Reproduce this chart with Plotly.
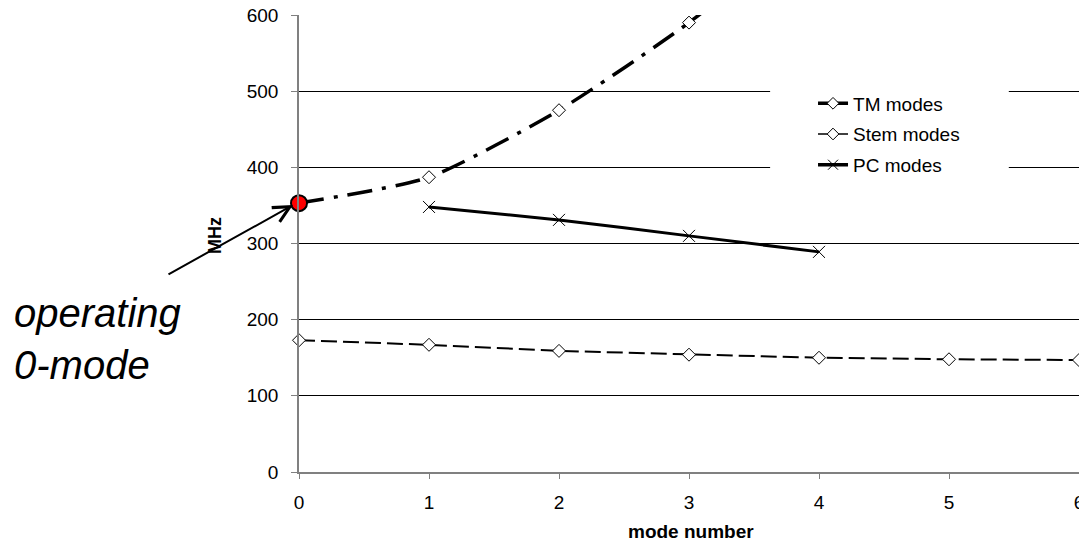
import plotly.graph_objects as go

# ---- data ----
mode_numbers = [0, 1, 2, 3, 4, 5, 6]
stem_modes = [173, 167, 159, 154, 150, 148, 147]

tm_modes_x = [0, 1, 2, 3, 4]
tm_modes = [353, 387, 475, 590, 730]   # last point lies above the 600 MHz limit (clipped)

pc_modes_x = [1, 2, 3, 4]
pc_modes = [348, 331, 310, 289]

operating_x = [0]
operating_y = [353]

x_ticks = [0, 1, 2, 3, 4, 5, 6]
y_ticks = [0, 100, 200, 300, 400, 500, 600]

FONT = "Arial, 'Liberation Sans', sans-serif"

fig = go.Figure()

# Stem modes (dashed, open diamonds)
fig.add_trace(go.Scatter(
    x=mode_numbers, y=stem_modes, mode="lines+markers", name="Stem modes",
    line=dict(color="black", width=2, dash="16px,6px"),
    marker=dict(symbol="diamond", size=10, color="white", line=dict(color="black", width=1)),
    showlegend=False, cliponaxis=False,
))

# TM modes (dash-dot, smoothed)
fig.add_trace(go.Scatter(
    x=tm_modes_x, y=tm_modes, mode="lines+markers", name="TM modes",
    line=dict(color="black", width=3.5, dash="25px,10px,4px,10px", shape="spline", smoothing=0.6),
    marker=dict(symbol="diamond", size=10, color="white", line=dict(color="black", width=1)),
    showlegend=False,
))

# PC modes (solid, x markers)
fig.add_trace(go.Scatter(
    x=pc_modes_x, y=pc_modes, mode="lines+markers", name="PC modes",
    line=dict(color="black", width=3, shape="spline", smoothing=0.5),
    marker=dict(symbol="x-thin", size=12, color="black", line=dict(color="black", width=1)),
    showlegend=False, cliponaxis=False,
))

# operating 0-mode (red dot)
fig.add_trace(go.Scatter(
    x=operating_x, y=operating_y, mode="markers", name="operating 0-mode",
    marker=dict(symbol="circle", size=16, color="red", line=dict(color="black", width=2)),
    showlegend=False, cliponaxis=False,
))

# legend entries (styles as shown in the reference legend)
fig.add_trace(go.Scatter(
    x=[None], y=[None], mode="lines+markers", name="TM modes", legendgroup="a",
    line=dict(color="black", width=3.5),
    marker=dict(symbol="diamond", size=9, color="white", line=dict(color="black", width=1)),
))
fig.add_trace(go.Scatter(
    x=[None], y=[None], mode="lines+markers", name="Stem modes", legendgroup="b",
    line=dict(color="black", width=1.5),
    marker=dict(symbol="diamond", size=9, color="white", line=dict(color="black", width=1)),
))
fig.add_trace(go.Scatter(
    x=[None], y=[None], mode="lines+markers", name="PC modes", legendgroup="c",
    line=dict(color="black", width=3.5),
    marker=dict(symbol="x-thin", size=10, color="black", line=dict(color="black", width=1)),
))

fig.update_layout(
    template="none",
    width=1079, height=543,
    margin=dict(l=299, r=0, t=15, b=71, pad=0),
    paper_bgcolor="white", plot_bgcolor="white",
    font=dict(family=FONT, size=19, color="black"),
    showlegend=True,
    legend=dict(
        x=0.659, y=0.848, xanchor="left", yanchor="top",
        bgcolor="rgba(0,0,0,0)", borderwidth=0,
        font=dict(family=FONT, size=19, color="black"),
        tracegroupgap=3, traceorder="grouped",
    ),
    xaxis=dict(
        range=[0, 6], tickvals=x_ticks, ticktext=[str(v) for v in x_ticks],
        showgrid=False, zeroline=False, automargin=False,
        showline=True, linecolor="#808080", linewidth=1.5,
        ticks="outside", ticklen=5, tickcolor="#808080", tickwidth=1,
        tickfont=dict(family=FONT, size=19, color="black"),
        ticklabelstandoff=7, ticklabeloverflow="allow",
    ),
    yaxis=dict(
        range=[0, 600], tickvals=y_ticks, ticktext=[str(v) for v in y_ticks],
        showgrid=True, gridcolor="black", gridwidth=1,
        zeroline=False, automargin=False,
        showline=True, linecolor="#808080", linewidth=1.5,
        ticks="outside", ticklen=6, tickcolor="#808080", tickwidth=1,
        tickfont=dict(family=FONT, size=19, color="black"),
        ticklabelstandoff=9,
    ),
    shapes=[dict(
        type="rect", xref="paper", yref="paper",
        x0=0.604, x1=0.910, y0=0.650, y1=0.847,
        fillcolor="white", line=dict(width=0), layer="above",
    )],
    annotations=[
        dict(text="<b>MHz</b>", xref="paper", yref="paper", x=-0.1077, y=0.5186,
             textangle=-90, showarrow=False, xanchor="center", yanchor="middle",
             font=dict(family=FONT, size=18, color="black")),
        dict(text="<b>mode number</b>", xref="paper", yref="paper", x=0.503, y=-0.131,
             showarrow=False, xanchor="center", yanchor="middle",
             font=dict(family=FONT, size=19, color="black")),
        dict(text="<i>operating<br>0-mode</i>", xref="paper", yref="paper", x=-0.368, y=0.29,
             showarrow=False, xanchor="left", yanchor="middle", align="left",
             font=dict(family=FONT, size=40, color="black")),
        dict(text="", xref="paper", yref="paper", x=-0.0077, y=0.584,
             ax=-126, ay=70, axref="pixel", ayref="pixel",
             showarrow=True, arrowhead=5, arrowsize=1.6, arrowwidth=2, arrowcolor="black",
             standoff=0),
    ],
)

fig.write_html("out.html", post_script="document.body.style.margin='0';",
               config={"displayModeBar": False})
